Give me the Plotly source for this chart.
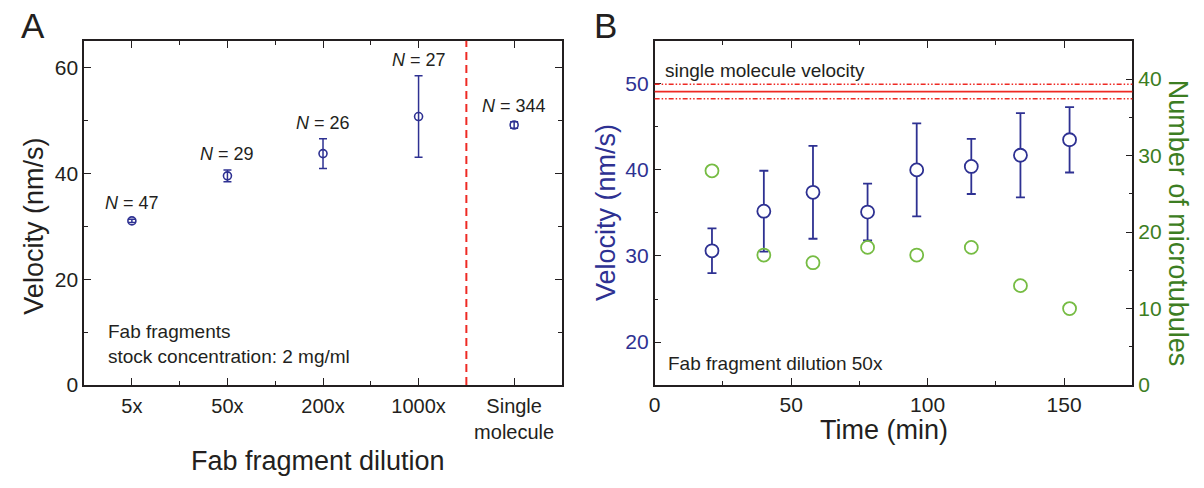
import plotly.graph_objects as go

W, H = 1204, 488

# ---------------- data ----------------
# Panel A
dilution_labels = ["5x", "50x", "200x", "1000x", "Single<br>molecule"]
velocity_A = [31.0, 39.5, 43.7, 50.7, 49.1]
velocity_A_err = [0.3, 1.1, 2.8, 7.7, 0.6]
n_counts = [47, 29, 26, 27, 344]

# Panel B
time_min = [21, 40, 58, 78, 96, 116, 134, 152]
velocity_B = [30.6, 35.2, 37.4, 35.1, 40.0, 40.4, 41.7, 43.5]
velocity_B_err = [2.6, 4.7, 5.4, 3.3, 5.4, 3.2, 4.9, 3.8]
n_microtubules = [28, 17, 16, 18, 17, 18, 13, 10]

single_molecule_velocity = 49.1
single_molecule_sd = 0.85

# ---------------- styles ----------------
FONT = "Liberation Sans, Arial, Helvetica, sans-serif"
BLACK = "#231f20"
BLUE = "#2e3192"
GREEN_MK = "#76bc43"
GREEN_TX = "#3c7d22"
RED = "#ee2a24"

def px_x(p):
    return p / W

def px_y(p):
    return 1 - p / H

domA_x = [px_x(78.5), px_x(558.7)]
domB_x = [px_x(651.9), px_x(1132)]
dom_y = [px_y(394), px_y(41.7)]

fig = go.Figure()

cat_pos = list(range(len(dilution_labels)))

fig.add_trace(go.Scatter(
    x=cat_pos, y=velocity_A, mode="markers",
    marker=dict(symbol="circle-open", size=8, color=BLUE, line=dict(width=1.6, color=BLUE)),
    error_y=dict(type="data", array=velocity_A_err, visible=True, color=BLUE, thickness=1.5, width=4),
    xaxis="x", yaxis="y", showlegend=False,
))

fig.add_trace(go.Scatter(
    x=time_min, y=velocity_B, mode="markers",
    marker=dict(symbol="circle", size=13, color="white", line=dict(width=1.8, color=BLUE)),
    error_y=dict(type="data", array=velocity_B_err, visible=True, color=BLUE, thickness=1.8, width=4.5),
    xaxis="x2", yaxis="y2", showlegend=False,
))

fig.add_trace(go.Scatter(
    x=time_min, y=n_microtubules, mode="markers",
    marker=dict(symbol="circle-open", size=13, color=GREEN_MK, line=dict(width=1.8, color=GREEN_MK)),
    xaxis="x2", yaxis="y3", showlegend=False,
))

axis_common = dict(
    showline=True, linecolor=BLACK, linewidth=1.5, ticks="inside", ticklen=7,
    tickwidth=1.3, tickcolor=BLACK, showgrid=False, zeroline=False,
)

shapes = []
# separator between diluted samples and single molecule
sep = len(dilution_labels) - 1.5
shapes.append(dict(type="line", xref="x", yref="y domain", x0=sep, x1=sep, y0=0, y1=1,
                   line=dict(color=RED, width=2, dash="8px,5px")))
# single molecule velocity lines
shapes.append(dict(type="line", xref="x2 domain", yref="y2", x0=0, x1=1,
                   y0=single_molecule_velocity, y1=single_molecule_velocity,
                   line=dict(color=RED, width=1.8)))
for s in (-1, 1):
    yv = single_molecule_velocity + s * single_molecule_sd
    shapes.append(dict(type="line", xref="x2 domain", yref="y2", x0=0, x1=1, y0=yv, y1=yv,
                       line=dict(color=RED, width=1.5, dash="5px,2px,1.5px,2px,1.5px,2px")))

annotations = []
for i, n in enumerate(n_counts):
    annotations.append(dict(
        x=cat_pos[i], y=velocity_A[i] + velocity_A_err[i], xref="x", yref="y",
        text=f"<i>N</i> = {n}", showarrow=False, yanchor="bottom", yshift=4,
        font=dict(size=18, color=BLACK, family=FONT)))

def paper_text(text, x, y, size, color=BLACK, angle=0, xanchor="center", yanchor="middle", align="center"):
    annotations.append(dict(text=text, x=px_x(x), y=px_y(y), xref="paper", yref="paper",
                            showarrow=False, textangle=angle, xanchor=xanchor, yanchor=yanchor,
                            align=align, font=dict(size=size, color=color, family=FONT)))

paper_text("A", 27, 26, 35)
paper_text("B", 602, 26, 35)
paper_text("Velocity (nm/s)", 28, 231, 27, angle=-90)
paper_text("Fab fragment dilution", 314, 472, 27)
paper_text("Fab fragments<br>stock concentration: 2 mg/ml", 100, 351.5, 19, xanchor="left", align="left")
paper_text("Velocity (nm/s)", 603, 217, 27, color=BLUE, angle=-90)
paper_text("Time (min)", 882, 440, 27)
paper_text("Number of microtubules", 1178, 228, 27, color=GREEN_TX, angle=90)
paper_text("single molecule velocity", 660, 72, 19, xanchor="left")
paper_text("Fab fragment dilution 50x", 663, 372, 19, xanchor="left")

fig.update_layout(
    width=W, height=H, margin=dict(l=0, r=0, t=0, b=0),
    paper_bgcolor="white", plot_bgcolor="white",
    font=dict(family=FONT, color=BLACK),
    xaxis=dict(**axis_common, domain=domA_x, anchor="y", range=[-0.5, len(dilution_labels) - 0.5],
               tickmode="array", tickvals=cat_pos, ticktext=dilution_labels, mirror="ticks",
               tickfont=dict(size=20, color=BLACK), ticklabelstandoff=2,
               minor=dict(tickmode="array", tickvals=[p + 0.5 for p in cat_pos[:-1]],
                          ticks="inside", ticklen=4, tickcolor=BLACK)),
    yaxis=dict(**axis_common, domain=dom_y, anchor="x", range=[0, 65], dtick=20, mirror="ticks",
               tickfont=dict(size=21, color=BLACK),
               minor=dict(dtick=10, ticks="inside", ticklen=4, tickcolor=BLACK)),
    xaxis2=dict(**axis_common, domain=domB_x, anchor="y2", range=[0, 175], dtick=50, mirror="ticks",
                tickfont=dict(size=21, color=BLACK), ticklabelstandoff=0,
                minor=dict(dtick=25, ticks="inside", ticklen=4, tickcolor=BLACK)),
    yaxis2=dict(**axis_common, domain=dom_y, anchor="x2", range=[15, 55], dtick=10,
                tickfont=dict(size=21, color=BLUE),
                minor=dict(dtick=5, ticks="inside", ticklen=4, tickcolor=BLACK)),
    yaxis3=dict(**axis_common, overlaying="y2", side="right", anchor="x2", range=[0, 45], dtick=10,
                tickfont=dict(size=21, color=GREEN_TX),
                minor=dict(dtick=5, ticks="inside", ticklen=4, tickcolor=BLACK)),
    shapes=shapes,
    annotations=annotations,
)

fig.write_html("out.html")
